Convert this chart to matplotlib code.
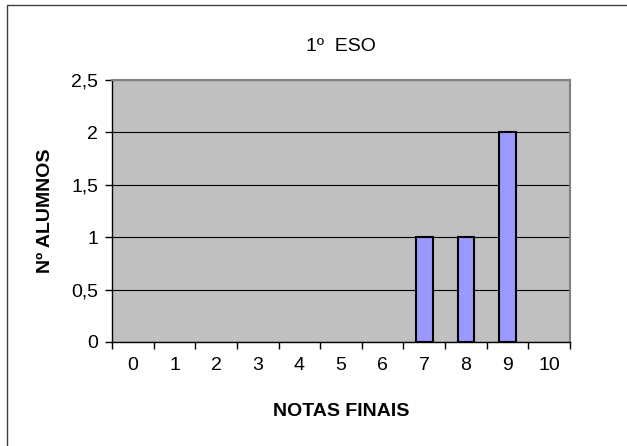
import numpy as np
import matplotlib
matplotlib.use('Agg')
import matplotlib.pyplot as plt
from matplotlib.patches import Rectangle
from matplotlib.ticker import FuncFormatter

# data
notas = [0, 1, 2, 3, 4, 5, 6, 7, 8, 9, 10]
alumnos = [0, 0, 0, 0, 0, 0, 0, 1, 1, 2, 0]
yticks = [0, 0.5, 1, 1.5, 2, 2.5]

plt.rcParams['font.family'] = ['Liberation Sans', 'DejaVu Sans']

fig = plt.figure(figsize=(6.27, 4.46), dpi=100)
W, H = 627, 446
ax = fig.add_axes([112 / W, 1 - 342 / H, (570 - 112) / W, (342 - 80) / H])

# outer chart border (right/bottom run off the picture)
fig.patches.append(Rectangle((7 / W, -0.1), 1.2, 1 - 5 / H + 0.1,
                             transform=fig.transFigure, fill=False,
                             edgecolor='#404040', linewidth=1.0))

ax.set_facecolor('#C0C0C0')
x = np.arange(len(notas))
# zero-height bars are not drawn in the original
edges = ['black' if v > 0 else 'none' for v in alumnos]
ax.bar(x, alumnos, width=0.4, color='#9999FF', edgecolor=edges,
       linewidth=1.5, zorder=3)

ax.set_xlim(-0.5, len(notas) - 0.5)
ax.set_ylim(0, 2.5)
ax.set_yticks(yticks)
ax.yaxis.set_major_formatter(FuncFormatter(lambda v, p: ('%g' % v).replace('.', ',')))
ax.set_xticks(x)
ax.set_xticklabels([str(n) for n in notas])
ax.set_xticks(np.arange(-0.5, len(notas), 1), minor=True)
ax.tick_params(axis='x', which='major', length=0, pad=11, labelsize=14)
ax.tick_params(axis='x', which='minor', length=5, width=1, direction='out')
ax.tick_params(axis='y', length=5, width=1, direction='out', labelsize=14, pad=5)

ax.grid(axis='y', color='black', linewidth=0.8, zorder=1)
ax.set_axisbelow(True)

for s in ['top', 'right']:
    ax.spines[s].set_color('#808080')
    ax.spines[s].set_linewidth(1.5)
for s in ['left', 'bottom']:
    ax.spines[s].set_color('black')
    ax.spines[s].set_linewidth(1.0)

ax.set_title('1º  ESO', fontsize=14, pad=21)
ax.set_ylabel('Nº ALUMNOS', fontsize=14, fontweight='bold', labelpad=12)
ax.set_xlabel('NOTAS FINAIS', fontsize=14, fontweight='bold', labelpad=21)

fig.savefig('out.png', dpi=100)
